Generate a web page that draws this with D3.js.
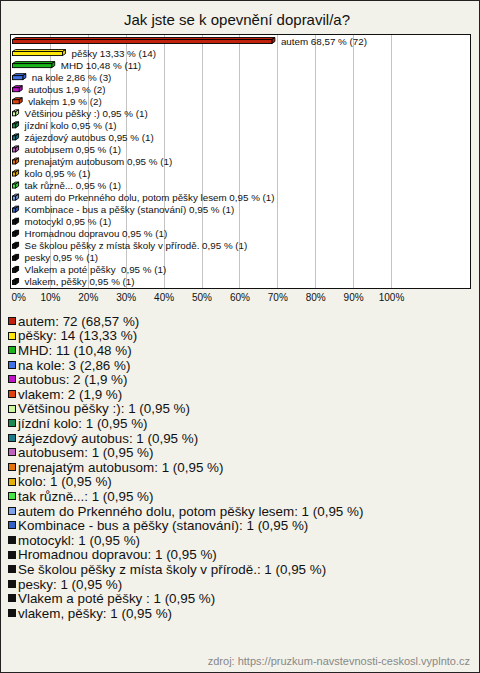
<!DOCTYPE html>
<html><head><meta charset="utf-8">
<script src="https://cdn.jsdelivr.net/npm/d3@7"></script>
<style>
html,body{margin:0;padding:0;background:#fff;}
text{font-family:"Liberation Sans",Arial,sans-serif;white-space:pre;}
</style></head>
<body>
<svg id="c" width="480" height="673"></svg>
<script>
const title = "Jak jste se k opevnění dopravil/a?";
const categories = ["autem","pěšky","MHD","na kole","autobus","vlakem","Většinou pěšky :)","jízdní kolo","zájezdový autobus","autobusem","prenajatým autobusom","kolo","tak různě...","autem do Prkenného dolu, potom pěšky lesem","Kombinace - bus a pěšky (stanování)","motocykl","Hromadnou dopravou","Se školou pěšky z místa školy v přírodě.","pesky","Vlakem a poté pěšky ","vlakem, pěšky"];
const counts = [72,14,11,3,2,2,1,1,1,1,1,1,1,1,1,1,1,1,1,1,1];
const percents = [68.57,13.33,10.48,2.86,1.9,1.9,0.95,0.95,0.95,0.95,0.95,0.95,0.95,0.95,0.95,0.95,0.95,0.95,0.95,0.95,0.95];
const colors = ["#c0220e","#ffe80a","#18b418","#3f72e6","#c012c6","#e0420e","#ccf79e","#1a8a52","#1a7a8c","#c260c2","#e4720e","#e4b00a","#44e644","#7ea2ea","#3262c4","#111111","#111111","#111111","#111111","#111111","#111111"];
const tickValues = [0,10,20,30,40,50,60,70,80,90,100];
const source = "zdroj: https://pruzkum-navstevnosti-ceskosl.vyplnto.cz";

const fmt = v => String(v).replace(".", ",");
const svg = d3.select("#c");
const W = 480, H = 673;

svg.append("rect").attr("x",0.5).attr("y",0.5).attr("width",W-1).attr("height",H-1)
  .attr("fill","#f3f2ea").attr("stroke","#222");

svg.append("text").attr("x",237).attr("y",25).attr("text-anchor","middle")
  .attr("font-size",15).attr("fill","#111").text(title);

// plot box
const box = {x0:10.5, y0:34.5, x1:470.5, y1:288.5};
svg.append("rect").attr("x",box.x0).attr("y",box.y0).attr("width",box.x1-box.x0).attr("height",box.y1-box.y0)
  .attr("fill","#fff").attr("stroke","#111");

const x = d3.scaleLinear().domain([0,100]).range([12,391]);
const y = d3.scaleBand().domain(categories).range([35,288]);

// gridlines
svg.append("g").selectAll("line").data(tickValues.slice(1)).join("line")
  .attr("x1",d=>Math.round(x(d))+0.5).attr("x2",d=>Math.round(x(d))+0.5)
  .attr("y1",box.y0+0.5).attr("y2",box.y1-0.5)
  .attr("stroke","#c4c4c4");

// axis labels
const axis = d3.axisBottom(x).tickValues(tickValues).tickFormat(d=>d+"%").tickSize(0).tickPadding(0);
const ag = svg.append("g").attr("transform","translate(0,294)").call(axis);
ag.select(".domain").remove();
ag.selectAll("text").attr("font-size",10).attr("fill","#111").attr("font-family","Liberation Sans, Arial, sans-serif")
  .attr("text-anchor",d=>d===0?"start":"middle").attr("dx",d=>d===0?-1:0);

// 3D bars
const dx = 3, dy = 2, bh = 4;
const bars = svg.append("g");
categories.forEach((c,i)=>{
  const cy = y(c) + y.bandwidth()/2;
  const xa = x(0)+0.5, xb = x(percents[i]);
  const top = cy - bh/2 + 0.5;
  const col = colors[i];
  const side = d3.color(col).darker(0.3);
  // top face
  bars.append("path").attr("d",`M${xa},${top} L${xa+dx},${top-dy} L${xb+dx},${top-dy} L${xb},${top} Z`)
    .attr("fill",col).attr("stroke","#000").attr("stroke-width",0.9);
  // side face
  bars.append("path").attr("d",`M${xb},${top} L${xb+dx},${top-dy} L${xb+dx},${top-dy+bh} L${xb},${top+bh} Z`)
    .attr("fill",side).attr("stroke","#000").attr("stroke-width",0.9);
  // front
  bars.append("rect").attr("x",xa).attr("y",top).attr("width",Math.max(0,xb-xa)).attr("height",bh)
    .attr("fill",col).attr("stroke","#000").attr("stroke-width",0.9);
  bars.append("text").attr("x",xb+9).attr("y",cy+3.5).attr("font-size",9.8).attr("fill","#111")
    .text(`${c} ${fmt(percents[i])} % (${counts[i]})`);
});

// legend
const ly = d3.scaleBand().domain(categories).range([313.7,620.3]);
const lg = svg.append("g");
categories.forEach((c,i)=>{
  const cy = ly(c) + ly.bandwidth()/2;
  lg.append("rect").attr("x",8.5).attr("y",Math.round(cy-4)+0.5).attr("width",7).attr("height",7)
    .attr("fill",colors[i]).attr("stroke","#111");
  lg.append("text").attr("x",18).attr("y",cy+4.8).attr("font-size",13.4).attr("fill","#111")
    .text(`${c}: ${counts[i]} (${fmt(percents[i])} %)`);
});

svg.append("text").attr("x",470).attr("y",665).attr("text-anchor","end").attr("font-size",11)
  .attr("fill","#888").text(source);
</script>
</body></html>
